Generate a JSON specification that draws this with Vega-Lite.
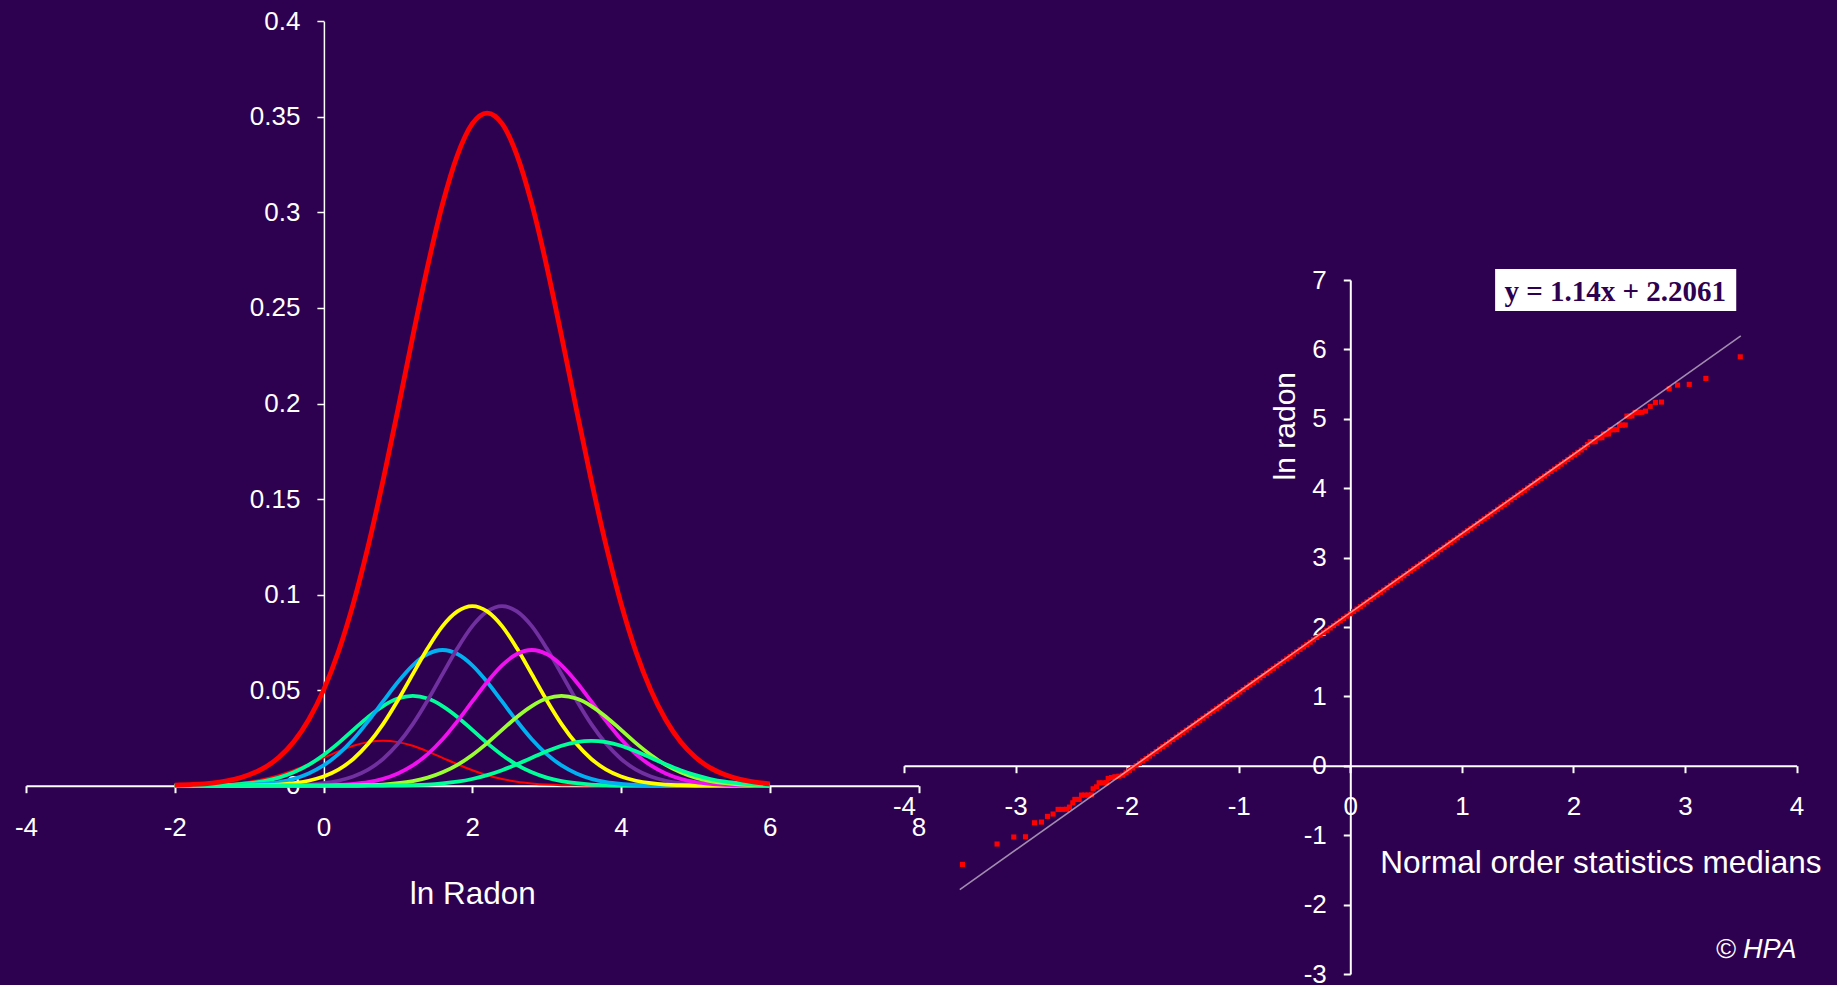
{
  "$schema": "https://vega.github.io/schema/vega-lite/v6.json",
  "width": 1837,
  "height": 985,
  "autosize": "none",
  "padding": 0,
  "background": "#2E0050",
  "config": {
    "view": {"stroke": null},
    "axis": {
      "grid": false,
      "domainColor": "#FFFFFF",
      "tickColor": "#FFFFFF",
      "labelColor": "#FFFFFF",
      "titleColor": "#FFFFFF",
      "labelFont": "Liberation Sans",
      "titleFont": "Liberation Sans",
      "labelFontSize": 26,
      "titleFontSize": 31.5,
      "titleFontWeight": "normal",
      "tickSize": 7,
      "labelOverlap": false,
      "labelFlush": false,
      "labelBound": false
    }
  },
  "datasets": {
    "density": [
      {"x":-2,"r":0.0003,"c1":0.0001,"c2":0,"c3":0,"c4":0,"c5":0,"c6":0,"c7":0,"c8":0},
      {"x":-1.8,"r":0.0006,"c1":0.0002,"c2":0.0001,"c3":0,"c4":0,"c5":0,"c6":0,"c7":0,"c8":0},
      {"x":-1.6,"r":0.001,"c1":0.0003,"c2":0.0001,"c3":0,"c4":0,"c5":0,"c6":0,"c7":0,"c8":0},
      {"x":-1.4,"r":0.0019,"c1":0.0006,"c2":0.0003,"c3":0.0001,"c4":0,"c5":0,"c6":0,"c7":0,"c8":0},
      {"x":-1.2,"r":0.0033,"c1":0.0012,"c2":0.0006,"c3":0.0002,"c4":0,"c5":0,"c6":0,"c7":0,"c8":0},
      {"x":-1,"r":0.0057,"c1":0.0021,"c2":0.0013,"c3":0.0005,"c4":0.0001,"c5":0,"c6":0,"c7":0,"c8":0},
      {"x":-0.8,"r":0.0093,"c1":0.0035,"c2":0.0024,"c3":0.001,"c4":0.0003,"c5":0,"c6":0,"c7":0,"c8":0},
      {"x":-0.6,"r":0.0149,"c1":0.0055,"c2":0.0042,"c3":0.0019,"c4":0.0006,"c5":0.0001,"c6":0,"c7":0,"c8":0},
      {"x":-0.4,"r":0.023,"c1":0.0081,"c2":0.007,"c3":0.0036,"c4":0.0013,"c5":0.0003,"c6":0,"c7":0,"c8":0},
      {"x":-0.2,"r":0.0345,"c1":0.0112,"c2":0.0109,"c3":0.0064,"c4":0.0026,"c5":0.0006,"c6":0.0001,"c7":0,"c8":0},
      {"x":0,"r":0.05,"c1":0.0146,"c2":0.0161,"c3":0.0106,"c4":0.0048,"c5":0.0013,"c6":0.0002,"c7":0,"c8":0},
      {"x":0.2,"r":0.0701,"c1":0.018,"c2":0.0223,"c3":0.0165,"c4":0.0084,"c5":0.0026,"c6":0.0005,"c7":0.0001,"c8":0},
      {"x":0.4,"r":0.0953,"c1":0.0209,"c2":0.0292,"c3":0.0243,"c4":0.014,"c5":0.0048,"c6":0.001,"c7":0.0001,"c8":0},
      {"x":0.6,"r":0.1254,"c1":0.0228,"c2":0.036,"c3":0.0338,"c4":0.0219,"c5":0.0084,"c6":0.0019,"c7":0.0003,"c8":0},
      {"x":0.8,"r":0.1597,"c1":0.0235,"c2":0.0417,"c3":0.0441,"c4":0.0322,"c5":0.014,"c6":0.0036,"c7":0.0006,"c8":0.0001},
      {"x":1,"r":0.1969,"c1":0.0228,"c2":0.0456,"c3":0.0543,"c4":0.0447,"c5":0.0219,"c6":0.0064,"c7":0.0013,"c8":0.0002},
      {"x":1.2,"r":0.2352,"c1":0.0209,"c2":0.047,"c3":0.063,"c4":0.0584,"c5":0.0322,"c6":0.0106,"c7":0.0024,"c8":0.0003},
      {"x":1.4,"r":0.2719,"c1":0.018,"c2":0.0456,"c3":0.0689,"c4":0.0719,"c5":0.0447,"c6":0.0165,"c7":0.0042,"c8":0.0006},
      {"x":1.6,"r":0.3044,"c1":0.0146,"c2":0.0417,"c3":0.071,"c4":0.0835,"c5":0.0584,"c6":0.0243,"c7":0.007,"c8":0.0012},
      {"x":1.8,"r":0.33,"c1":0.0112,"c2":0.036,"c3":0.0689,"c4":0.0912,"c5":0.0719,"c6":0.0338,"c7":0.0109,"c8":0.0021},
      {"x":2,"r":0.3464,"c1":0.0081,"c2":0.0292,"c3":0.063,"c4":0.094,"c5":0.0835,"c6":0.0441,"c7":0.0161,"c8":0.0035},
      {"x":2.2,"r":0.352,"c1":0.0055,"c2":0.0223,"c3":0.0543,"c4":0.0912,"c5":0.0912,"c6":0.0543,"c7":0.0223,"c8":0.0055},
      {"x":2.4,"r":0.3464,"c1":0.0035,"c2":0.0161,"c3":0.0441,"c4":0.0835,"c5":0.094,"c6":0.063,"c7":0.0292,"c8":0.0081},
      {"x":2.6,"r":0.33,"c1":0.0021,"c2":0.0109,"c3":0.0338,"c4":0.0719,"c5":0.0912,"c6":0.0689,"c7":0.036,"c8":0.0112},
      {"x":2.8,"r":0.3044,"c1":0.0012,"c2":0.007,"c3":0.0243,"c4":0.0584,"c5":0.0835,"c6":0.071,"c7":0.0417,"c8":0.0146},
      {"x":3,"r":0.2719,"c1":0.0006,"c2":0.0042,"c3":0.0165,"c4":0.0447,"c5":0.0719,"c6":0.0689,"c7":0.0456,"c8":0.018},
      {"x":3.2,"r":0.2352,"c1":0.0003,"c2":0.0024,"c3":0.0106,"c4":0.0322,"c5":0.0584,"c6":0.063,"c7":0.047,"c8":0.0209},
      {"x":3.4,"r":0.1969,"c1":0.0002,"c2":0.0013,"c3":0.0064,"c4":0.0219,"c5":0.0447,"c6":0.0543,"c7":0.0456,"c8":0.0228},
      {"x":3.6,"r":0.1597,"c1":0.0001,"c2":0.0006,"c3":0.0036,"c4":0.014,"c5":0.0322,"c6":0.0441,"c7":0.0417,"c8":0.0235},
      {"x":3.8,"r":0.1254,"c1":0,"c2":0.0003,"c3":0.0019,"c4":0.0084,"c5":0.0219,"c6":0.0338,"c7":0.036,"c8":0.0228},
      {"x":4,"r":0.0953,"c1":0,"c2":0.0001,"c3":0.001,"c4":0.0048,"c5":0.014,"c6":0.0243,"c7":0.0292,"c8":0.0209},
      {"x":4.2,"r":0.0701,"c1":0,"c2":0.0001,"c3":0.0005,"c4":0.0026,"c5":0.0084,"c6":0.0165,"c7":0.0223,"c8":0.018},
      {"x":4.4,"r":0.05,"c1":0,"c2":0,"c3":0.0002,"c4":0.0013,"c5":0.0048,"c6":0.0106,"c7":0.0161,"c8":0.0146},
      {"x":4.6,"r":0.0345,"c1":0,"c2":0,"c3":0.0001,"c4":0.0006,"c5":0.0026,"c6":0.0064,"c7":0.0109,"c8":0.0112},
      {"x":4.8,"r":0.023,"c1":0,"c2":0,"c3":0,"c4":0.0003,"c5":0.0013,"c6":0.0036,"c7":0.007,"c8":0.0081},
      {"x":5,"r":0.0149,"c1":0,"c2":0,"c3":0,"c4":0.0001,"c5":0.0006,"c6":0.0019,"c7":0.0042,"c8":0.0055},
      {"x":5.2,"r":0.0093,"c1":0,"c2":0,"c3":0,"c4":0,"c5":0.0003,"c6":0.001,"c7":0.0024,"c8":0.0035},
      {"x":5.4,"r":0.0057,"c1":0,"c2":0,"c3":0,"c4":0,"c5":0.0001,"c6":0.0005,"c7":0.0013,"c8":0.0021},
      {"x":5.6,"r":0.0033,"c1":0,"c2":0,"c3":0,"c4":0,"c5":0,"c6":0.0002,"c7":0.0006,"c8":0.0012},
      {"x":5.8,"r":0.0019,"c1":0,"c2":0,"c3":0,"c4":0,"c5":0,"c6":0.0001,"c7":0.0003,"c8":0.0006},
      {"x":6,"r":0.001,"c1":0,"c2":0,"c3":0,"c4":0,"c5":0,"c6":0,"c7":0.0001,"c8":0.0003}
    ],
    "qq": [
      {"m":-3.476,"v":-1.421},{"m":-3.166,"v":-1.127},{"m":-3.016,"v":-1.026},{"m":-2.911,"v":-1.023},
      {"m":-2.83,"v":-0.821},{"m":-2.768,"v":-0.811},{"m":-2.714,"v":-0.729},{"m":-2.664,"v":-0.695},
      {"m":-2.619,"v":-0.628},{"m":-2.581,"v":-0.628},{"m":-2.544,"v":-0.626},{"m":-2.517,"v":-0.595},
      {"m":-2.487,"v":-0.533},{"m":-2.469,"v":-0.484},{"m":-2.43,"v":-0.484},{"m":-2.409,"v":-0.422},
      {"m":-2.379,"v":-0.422},{"m":-2.349,"v":-0.421},{"m":-2.319,"v":-0.419},{"m":-2.305,"v":-0.331},
      {"m":-2.274,"v":-0.303},{"m":-2.251,"v":-0.245},{"m":-2.218,"v":-0.245},{"m":-2.185,"v":-0.243},
      {"m":-2.17,"v":-0.182},{"m":-2.14,"v":-0.17},{"m":-2.11,"v":-0.158},{"m":-2.075,"v":-0.15},
      {"m":-2.04,"v":-0.135},{"m":-2.01,"v":-0.1},{"m":-1.98,"v":-0.066},{"m":-1.95,"v":-0.032},
      {"m":-1.92,"v":0.002},{"m":-1.89,"v":0.036},{"m":-1.86,"v":0.071},{"m":-1.83,"v":0.105},
      {"m":-1.8,"v":0.139},{"m":-1.77,"v":0.173},{"m":-1.74,"v":0.207},{"m":-1.71,"v":0.242},
      {"m":-1.68,"v":0.276},{"m":-1.65,"v":0.31},{"m":-1.62,"v":0.344},{"m":-1.59,"v":0.378},
      {"m":-1.56,"v":0.413},{"m":-1.53,"v":0.447},{"m":-1.5,"v":0.481},{"m":-1.47,"v":0.515},
      {"m":-1.44,"v":0.549},{"m":-1.41,"v":0.584},{"m":-1.38,"v":0.618},{"m":-1.35,"v":0.652},
      {"m":-1.32,"v":0.686},{"m":-1.29,"v":0.72},{"m":-1.26,"v":0.755},{"m":-1.23,"v":0.789},
      {"m":-1.2,"v":0.823},{"m":-1.17,"v":0.857},{"m":-1.14,"v":0.891},{"m":-1.11,"v":0.926},
      {"m":-1.08,"v":0.96},{"m":-1.05,"v":0.994},{"m":-1.02,"v":1.028},{"m":-0.99,"v":1.062},
      {"m":-0.96,"v":1.097},{"m":-0.93,"v":1.131},{"m":-0.9,"v":1.165},{"m":-0.87,"v":1.199},
      {"m":-0.84,"v":1.233},{"m":-0.81,"v":1.268},{"m":-0.78,"v":1.302},{"m":-0.75,"v":1.336},
      {"m":-0.72,"v":1.37},{"m":-0.69,"v":1.404},{"m":-0.66,"v":1.439},{"m":-0.63,"v":1.473},
      {"m":-0.6,"v":1.507},{"m":-0.57,"v":1.541},{"m":-0.54,"v":1.575},{"m":-0.51,"v":1.61},
      {"m":-0.48,"v":1.644},{"m":-0.45,"v":1.678},{"m":-0.42,"v":1.712},{"m":-0.39,"v":1.746},
      {"m":-0.36,"v":1.781},{"m":-0.33,"v":1.815},{"m":-0.3,"v":1.849},{"m":-0.27,"v":1.883},
      {"m":-0.24,"v":1.917},{"m":-0.21,"v":1.952},{"m":-0.18,"v":1.986},{"m":-0.15,"v":2.02},
      {"m":-0.12,"v":2.054},{"m":-0.09,"v":2.088},{"m":-0.06,"v":2.123},{"m":-0.03,"v":2.157},
      {"m":0,"v":2.191},{"m":0.03,"v":2.225},{"m":0.06,"v":2.259},{"m":0.09,"v":2.294},
      {"m":0.12,"v":2.328},{"m":0.15,"v":2.362},{"m":0.18,"v":2.396},{"m":0.21,"v":2.43},
      {"m":0.24,"v":2.465},{"m":0.27,"v":2.499},{"m":0.3,"v":2.533},{"m":0.33,"v":2.567},
      {"m":0.36,"v":2.601},{"m":0.39,"v":2.636},{"m":0.42,"v":2.67},{"m":0.45,"v":2.704},
      {"m":0.48,"v":2.738},{"m":0.51,"v":2.772},{"m":0.54,"v":2.807},{"m":0.57,"v":2.841},
      {"m":0.6,"v":2.875},{"m":0.63,"v":2.909},{"m":0.66,"v":2.943},{"m":0.69,"v":2.978},
      {"m":0.72,"v":3.012},{"m":0.75,"v":3.046},{"m":0.78,"v":3.08},{"m":0.81,"v":3.114},
      {"m":0.84,"v":3.149},{"m":0.87,"v":3.183},{"m":0.9,"v":3.217},{"m":0.93,"v":3.251},
      {"m":0.96,"v":3.285},{"m":0.99,"v":3.32},{"m":1.02,"v":3.354},{"m":1.05,"v":3.388},
      {"m":1.08,"v":3.422},{"m":1.11,"v":3.456},{"m":1.14,"v":3.491},{"m":1.17,"v":3.525},
      {"m":1.2,"v":3.559},{"m":1.23,"v":3.593},{"m":1.26,"v":3.627},{"m":1.29,"v":3.662},
      {"m":1.32,"v":3.696},{"m":1.35,"v":3.73},{"m":1.38,"v":3.764},{"m":1.41,"v":3.798},
      {"m":1.44,"v":3.833},{"m":1.47,"v":3.867},{"m":1.5,"v":3.901},{"m":1.53,"v":3.935},
      {"m":1.56,"v":3.969},{"m":1.59,"v":4.004},{"m":1.62,"v":4.038},{"m":1.65,"v":4.072},
      {"m":1.68,"v":4.106},{"m":1.71,"v":4.14},{"m":1.74,"v":4.175},{"m":1.77,"v":4.209},
      {"m":1.8,"v":4.243},{"m":1.83,"v":4.277},{"m":1.86,"v":4.311},{"m":1.89,"v":4.346},
      {"m":1.92,"v":4.38},{"m":1.95,"v":4.414},{"m":1.98,"v":4.448},{"m":2.01,"v":4.482},
      {"m":2.04,"v":4.517},{"m":2.07,"v":4.551},{"m":2.1,"v":4.585},{"m":2.125,"v":4.63},
      {"m":2.15,"v":4.669},{"m":2.172,"v":4.669},{"m":2.195,"v":4.671},{"m":2.21,"v":4.726},
      {"m":2.232,"v":4.726},{"m":2.255,"v":4.728},{"m":2.269,"v":4.78},{"m":2.292,"v":4.78},
      {"m":2.314,"v":4.782},{"m":2.329,"v":4.842},{"m":2.359,"v":4.842},{"m":2.389,"v":4.844},
      {"m":2.413,"v":4.909},{"m":2.438,"v":4.909},{"m":2.464,"v":4.911},{"m":2.479,"v":5.039},
      {"m":2.502,"v":5.039},{"m":2.524,"v":5.041},{"m":2.553,"v":5.092},{"m":2.583,"v":5.092},
      {"m":2.613,"v":5.094},{"m":2.646,"v":5.111},{"m":2.688,"v":5.179},{"m":2.735,"v":5.236},
      {"m":2.789,"v":5.241},{"m":2.858,"v":5.432},{"m":2.933,"v":5.486},{"m":3.038,"v":5.496},
      {"m":3.187,"v":5.582},{"m":3.495,"v":5.893}
    ],
    "fit": [
      {"m":-3.5,"v":-1.7839},
      {"m":3.5,"v":6.1961}
    ]
  },
  "layer": [
    {
      "data": {"name": "density"},
      "layer": [
        {
          "mark": {"type": "line", "color": "#FF0000", "strokeWidth": 2, "interpolate": "monotone"},
          "encoding": {
            "x": {
              "field": "x", "type": "quantitative",
              "scale": {"domain": [-4, 8], "range": [26, 918.6], "nice": false, "zero": false},
              "axis": {
                "orient": "bottom", "offset": -199.3,
                "values": [-4, -2, 0, 2, 4, 6, 8],
                "labelExpr": "'' + datum.value",
                "labelPadding": 21.5, "domainWidth": 2, "tickWidth": 2,
                "title": "ln Radon", "titleBaseline": "alphabetic", "titleY": 117.5
              }
            },
            "y": {
              "field": "c1", "type": "quantitative",
              "scale": {"domain": [0, 0.4], "range": [785.7, 21.3], "nice": false, "zero": false},
              "axis": {
                "orient": "left", "offset": -323.9,
                "values": [0, 0.05, 0.1, 0.15, 0.2, 0.25, 0.3, 0.35, 0.4],
                "labelExpr": "'' + datum.value",
                "labelPadding": 17, "domainWidth": 1.5, "tickWidth": 1.5,
                "title": null
              }
            }
          }
        },
        {
          "mark": {"type": "line", "color": "#00FF99", "strokeWidth": 3.8, "interpolate": "monotone"},
          "encoding": {
            "x": {"field": "x", "type": "quantitative"},
            "y": {"field": "c2", "type": "quantitative"}
          }
        },
        {
          "mark": {"type": "line", "color": "#00B0F0", "strokeWidth": 3.8, "interpolate": "monotone"},
          "encoding": {
            "x": {"field": "x", "type": "quantitative"},
            "y": {"field": "c3", "type": "quantitative"}
          }
        },
        {
          "mark": {"type": "line", "color": "#7030A0", "strokeWidth": 3.8, "interpolate": "monotone"},
          "encoding": {
            "x": {"field": "x", "type": "quantitative"},
            "y": {"field": "c5", "type": "quantitative"}
          }
        },
        {
          "mark": {"type": "line", "color": "#FFFF00", "strokeWidth": 3.8, "interpolate": "monotone"},
          "encoding": {
            "x": {"field": "x", "type": "quantitative"},
            "y": {"field": "c4", "type": "quantitative"}
          }
        },
        {
          "mark": {"type": "line", "color": "#F010F0", "strokeWidth": 3.8, "interpolate": "monotone"},
          "encoding": {
            "x": {"field": "x", "type": "quantitative"},
            "y": {"field": "c6", "type": "quantitative"}
          }
        },
        {
          "mark": {"type": "line", "color": "#99FF33", "strokeWidth": 3.8, "interpolate": "monotone"},
          "encoding": {
            "x": {"field": "x", "type": "quantitative"},
            "y": {"field": "c7", "type": "quantitative"}
          }
        },
        {
          "mark": {"type": "line", "color": "#00FF99", "strokeWidth": 3.8, "interpolate": "monotone"},
          "encoding": {
            "x": {"field": "x", "type": "quantitative"},
            "y": {"field": "c8", "type": "quantitative"}
          }
        },
        {
          "mark": {"type": "line", "color": "#FF0000", "strokeWidth": 4.8, "interpolate": "monotone"},
          "encoding": {
            "x": {"field": "x", "type": "quantitative"},
            "y": {"field": "r", "type": "quantitative"}
          }
        }
      ]
    },
    {
      "layer": [
        {
          "data": {"name": "qq"},
          "mark": {"type": "square", "size": 26, "color": "#FF0000", "opacity": 1},
          "encoding": {
            "x": {
              "field": "m", "type": "quantitative",
              "scale": {"domain": [-4, 4], "range": [904, 1796.6], "nice": false, "zero": false},
              "axis": {
                "orient": "bottom", "offset": -219.3,
                "values": [-4, -3, -2, -1, 0, 1, 2, 3, 4],
                "labelExpr": "'' + datum.value",
                "labelPadding": 20.5, "domainWidth": 2, "tickWidth": 2,
                "title": "Normal order statistics medians",
                "titleX": 1600.4, "titleY": 107, "titleAlign": "center", "titleBaseline": "alphabetic"
              }
            },
            "y": {
              "field": "v", "type": "quantitative",
              "scale": {"domain": [-3, 7], "range": [974, 280], "nice": false, "zero": false},
              "axis": {
                "orient": "left", "offset": -1350.3,
                "values": [-3, -2, -1, 0, 1, 2, 3, 4, 5, 6, 7],
                "labelExpr": "'' + datum.value",
                "labelPadding": 17, "domainWidth": 2, "tickWidth": 2,
                "title": "ln radon", "titleFontSize": 30,
                "titleX": -55.8, "titleY": 425.7, "titleAngle": -90,
                "titleAlign": "center", "titleBaseline": "alphabetic"
              }
            }
          }
        },
        {
          "data": {"name": "fit"},
          "mark": {"type": "line", "color": "#FFFFFF", "opacity": 0.55, "strokeWidth": 1.6},
          "encoding": {
            "x": {"field": "m", "type": "quantitative"},
            "y": {"field": "v", "type": "quantitative"}
          }
        },
        {
          "data": {"values": [{}]},
          "mark": {"type": "rect", "color": "#FFFFFF"},
          "encoding": {
            "x": {"datum": 1.298, "type": "quantitative"},
            "x2": {"datum": 3.459},
            "y": {"datum": 7.157, "type": "quantitative"},
            "y2": {"datum": 6.552}
          }
        },
        {
          "data": {"values": [{"eq": "y = 1.14x + 2.2061"}]},
          "mark": {
            "type": "text", "font": "Liberation Serif", "fontWeight": "bold", "fontSize": 29,
            "color": "#2E0050", "align": "center", "baseline": "alphabetic"
          },
          "encoding": {
            "x": {"datum": 2.374, "type": "quantitative"},
            "y": {"datum": 6.7, "type": "quantitative"},
            "text": {"field": "eq"}
          }
        },
        {
          "data": {"values": [{"note": "© HPA"}]},
          "mark": {
            "type": "text", "font": "Liberation Sans", "fontStyle": "italic", "fontSize": 27,
            "color": "#FFFFFF", "align": "right", "baseline": "alphabetic"
          },
          "encoding": {
            "x": {"datum": 4, "type": "quantitative"},
            "y": {"datum": -2.775, "type": "quantitative"},
            "text": {"field": "note"}
          }
        }
      ]
    }
  ],
  "resolve": {
    "scale": {"x": "independent", "y": "independent"},
    "axis": {"x": "independent", "y": "independent"}
  }
}
